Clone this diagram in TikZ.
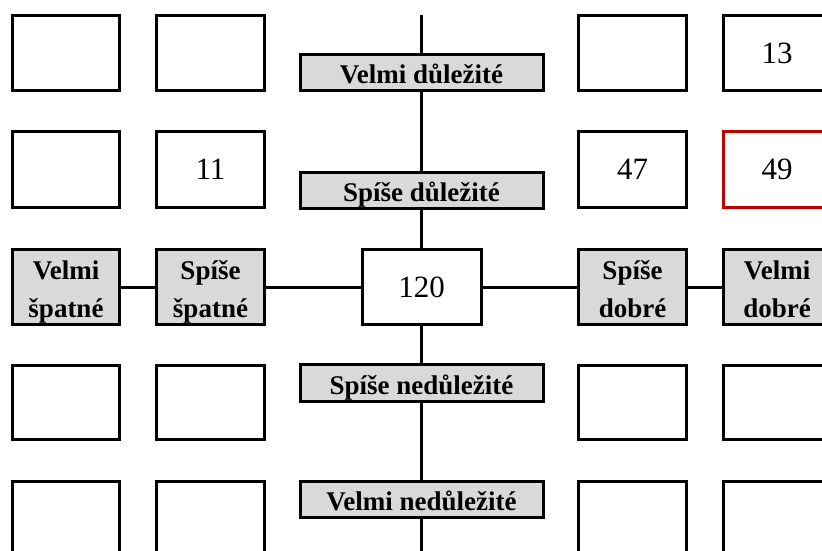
\documentclass[tikz,border=0pt]{standalone}
\usepackage{fontspec}
\setmainfont{Liberation Serif}
\definecolor{lblgray}{RGB}{217,217,217}
\definecolor{cellred}{RGB}{192,0,0}
\newcommand{\toprule}{\rule{0pt}{29.5pt}}
\newcommand{\botrule}{\rule[-7pt]{0pt}{7pt}}
\begin{document}
\begin{tikzpicture}[x=1pt,y=-1pt,
  cell/.style={draw=black, line width=3pt, fill=white, inner sep=0pt,
    minimum width=107pt, minimum height=74pt, font=\fontsize{31}{36}\selectfont},
  redcell/.style={cell, draw=cellred},
  hlabel/.style={draw=black, line width=3pt, fill=lblgray, inner sep=0pt,
    minimum width=243pt, minimum height=36pt, text height=22pt, text depth=0pt,
    font=\fontsize{27}{32}\selectfont\bfseries},
  vlabel/.style={draw=black, line width=3pt, fill=lblgray, inner sep=0pt,
    minimum width=107pt, minimum height=75pt, align=center,
    font=\fontsize{27}{37.5}\selectfont\bfseries},
  conn/.style={line width=3pt}]
\useasboundingbox (0,0) rectangle (822,551);
\clip (0,0) rectangle (822,551);
% row 1
\node[cell] (r1c1) at (66,53) {};
\node[cell, minimum width=108pt] (r1c2) at (210.5,53) {};
\node[cell, minimum width=108pt] (r1c4) at (632.5,53) {};
\node[cell] (r1c5) at (777,53) {13};
% row 2
\node[cell, minimum height=76pt] (r2c1) at (66,169.5) {};
\node[cell, minimum height=76pt, minimum width=108pt] (r2c2) at (210.5,169.5) {11};
\node[cell, minimum height=76pt, minimum width=108pt] (r2c4) at (632.5,169.5) {47};
\node[redcell, minimum height=76pt] (r2c5) at (777,169.5) {49};
% row 3
\node[vlabel] (vspat) at (66,287) {\toprule Velmi\\špatné\botrule};
\node[vlabel, minimum width=108pt] (sspat) at (210.5,287) {\toprule Spíše\\špatné\botrule};
\node[cell, minimum width=119pt, minimum height=75pt] (mid) at (421.5,287) {120};
\node[vlabel, minimum width=108pt] (sdob) at (632.5,287) {\toprule Spíše\\dobré\botrule};
\node[vlabel] (vdob) at (777,287) {\toprule Velmi\\dobré\botrule};
% row 4
\node[cell] (r4c1) at (66,402.5) {};
\node[cell, minimum width=108pt] (r4c2) at (210.5,402.5) {};
\node[cell, minimum width=108pt] (r4c4) at (632.5,402.5) {};
\node[cell] (r4c5) at (777,402.5) {};
% row 5
\node[cell] (r5c1) at (66,518.5) {};
\node[cell, minimum width=108pt] (r5c2) at (210.5,518.5) {};
\node[cell, minimum width=108pt] (r5c4) at (632.5,518.5) {};
\node[cell] (r5c5) at (777,518.5) {};
% axis labels
\node[hlabel] (vdul) at (421.5,72.5) {Velmi důležité};
\node[hlabel] (sdul) at (421.5,190.5) {Spíše důležité};
\node[hlabel, minimum height=37pt] (sned) at (421.5,383) {Spíše nedůležité};
\node[hlabel] (vned) at (421.5,499.5) {Velmi nedůležité};
\coordinate (top) at (421.5,15);
\coordinate (bot) at (421.5,551);
% connectors
\draw[conn] (top) -- (vdul.north);
\draw[conn] (vdul.south) -- (sdul.north);
\draw[conn] (sdul.south) -- (mid.north);
\draw[conn] (mid.south) -- (sned.north);
\draw[conn] (sned.south) -- (vned.north);
\draw[conn] (vned.south) -- (bot);
\draw[conn] (vspat.east) -- (sspat.west);
\draw[conn] (sspat.east) -- (mid.west);
\draw[conn] (mid.east) -- (sdob.west);
\draw[conn] (sdob.east) -- (vdob.west);
\end{tikzpicture}
\end{document}
